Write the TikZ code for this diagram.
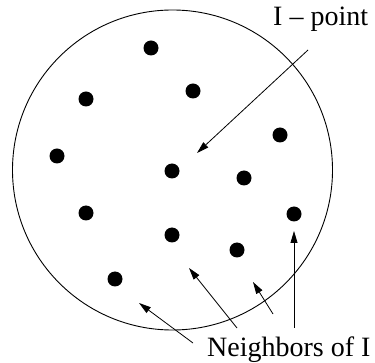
\documentclass[tikz,border=0pt]{standalone}
\usepackage{fontspec}
\setmainfont{Liberation Serif}
\usetikzlibrary{arrows.meta}
\begin{document}
\begin{tikzpicture}[x=1pt,y=-1pt,
  dot/.style={circle,fill=black,inner sep=0pt,minimum size=15pt},
  lbl/.style={inner sep=0pt,font=\fontsize{28}{30}\selectfont},
  ptr/.style={line width=0.8pt,-{Triangle[length=12pt,width=7pt]}}]
\useasboundingbox (0,0) rectangle (375,363);
\node[draw,circle,line width=0.9pt,minimum size=320pt,inner sep=0pt] (c) at (172.5,170) {};
\node[dot] (d1) at (151,48) {};
\node[dot] (d2) at (86,99) {};
\node[dot] (d3) at (193,91) {};
\node[dot] (d4) at (57,156) {};
\node[dot] (d5) at (280,135) {};
\node[dot] (d6) at (172,171) {};
\node[dot] (d7) at (244,178) {};
\node[dot] (d8) at (86,213) {};
\node[dot] (d9) at (294,214) {};
\node[dot] (d10) at (172,235) {};
\node[dot] (d11) at (237,250) {};
\node[dot] (d12) at (115,279) {};
\node[lbl,anchor=base west] (ip) at (273,26) {I -- point};
\node[lbl,anchor=base west] (nb) at (207,357) {Neighbors of I};
\coordinate (a0s) at (308,50);
\coordinate (a0e) at (197,153);
\coordinate (a1s) at (193,343);
\coordinate (a1e) at (139,303);
\coordinate (a2s) at (237,328);
\coordinate (a2e) at (189,268);
\coordinate (a3s) at (273,314);
\coordinate (a3e) at (253,282);
\coordinate (a4s) at (294,328);
\coordinate (a4e) at (294,231);
\draw[ptr] (a0s) -- (a0e);
\draw[ptr] (a1s) -- (a1e);
\draw[ptr] (a2s) -- (a2e);
\draw[ptr] (a3s) -- (a3e);
\draw[ptr] (a4s) -- (a4e);
\end{tikzpicture}
\end{document}
